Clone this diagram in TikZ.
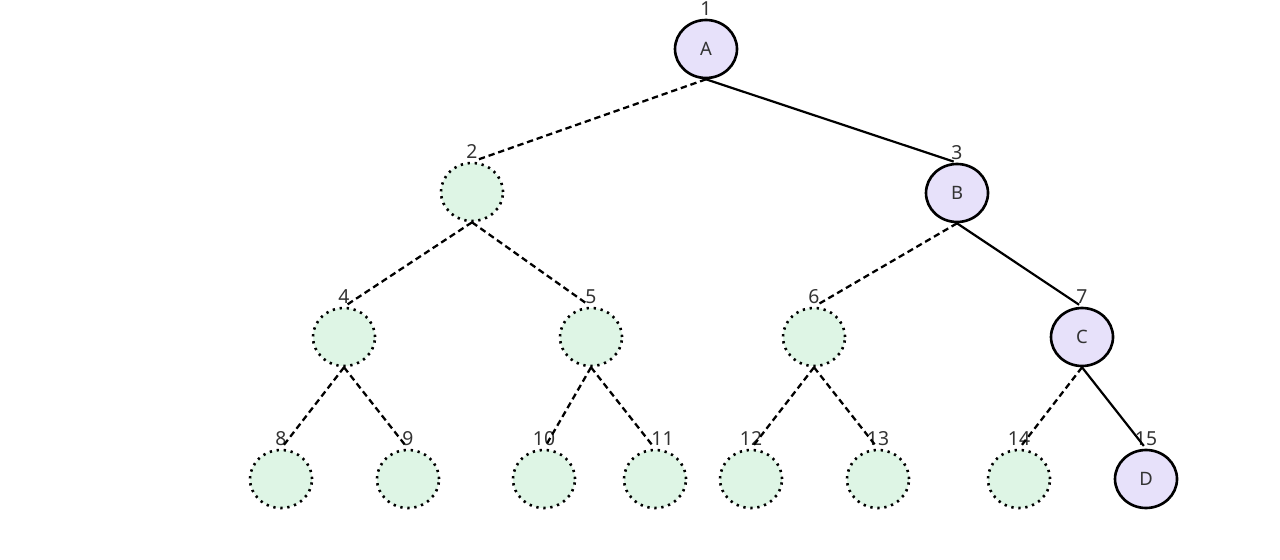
\documentclass[tikz,border=0pt]{standalone}
\usepackage{fontspec}
\setmainfont{Noto Sans}
\usetikzlibrary{positioning,shapes.geometric}
\definecolor{visitfill}{HTML}{E7E1FA}
\definecolor{skipfill}{HTML}{DEF5E5}
\definecolor{numtext}{HTML}{333333}

\begin{document}
\begin{tikzpicture}[x=0.02cm,y=-0.02cm,
    visited/.style={ellipse,draw,line width=1.5pt,fill=visitfill,minimum width=1.24cm,minimum height=1.16cm,inner sep=0pt,text=numtext,font=\fontsize{10.5}{12}\selectfont},
    skipped/.style={ellipse,draw,line width=1.5pt,dash pattern=on 1.3pt off 2.7pt,fill=skipfill,minimum width=1.24cm,minimum height=1.16cm,inner sep=0pt},
    num/.style={inner sep=0pt,text=numtext,font=\fontsize{11}{13}\selectfont},
    taken/.style={line width=1.25pt,shorten >=2pt},
    pruned/.style={line width=1.3pt,dash pattern=on 3.6pt off 2.2pt,shorten >=2pt}]
    \useasboundingbox (0,0) rectangle (1280,560);
    % Level 0
    \node[visited] (n1) at (706,49) {A};
    % Level 1
    \node[skipped] (n2) at (472,192) {};
    \node[visited] (n3) at (957,193) {B};
    % Level 2
    \node[skipped] (n4) at (344,337) {};
    \node[skipped] (n5) at (591,337) {};
    \node[skipped] (n6) at (814,337) {};
    \node[visited] (n7) at (1082,337) {C};
    % Level 3
    \node[skipped] (n8) at (281,479) {};
    \node[skipped] (n9) at (408,479) {};
    \node[skipped] (n10) at (544,479) {};
    \node[skipped] (n11) at (655,479) {};
    \node[skipped] (n12) at (751,479) {};
    \node[skipped] (n13) at (878,479) {};
    \node[skipped] (n14) at (1019,479) {};
    \node[visited] (n15) at (1146,479) {D};
    % Heap indices
    \node[num,above=0.06cm of n1] (l1) {1};
    \node[num,above=0.06cm of n2] (l2) {2};
    \node[num,above=0.06cm of n3] (l3) {3};
    \node[num,above=0.06cm of n4] (l4) {4};
    \node[num,above=0.06cm of n5] (l5) {5};
    \node[num,above=0.06cm of n6] (l6) {6};
    \node[num,above=0.06cm of n7] (l7) {7};
    \node[num,above=0.06cm of n8] (l8) {8};
    \node[num,above=0.06cm of n9] (l9) {9};
    \node[num,above=0.06cm of n10] (l10) {10};
    \node[num,above=0.06cm of n11,xshift=0.15cm] (l11) {11};
    \node[num,above=0.06cm of n12] (l12) {12};
    \node[num,above=0.06cm of n13] (l13) {13};
    \node[num,above=0.06cm of n14] (l14) {14};
    \node[num,above=0.06cm of n15] (l15) {15};
    % Edges
    \draw[pruned] (n1.south) -- (n2.north);
    \draw[taken] (n1.south) -- (n3.north);
    \draw[pruned] (n2.south) -- (n4.north);
    \draw[pruned] (n2.south) -- (n5.north);
    \draw[pruned] (n3.south) -- (n6.north);
    \draw[taken] (n3.south) -- (n7.north);
    \draw[pruned] (n4.south) -- (n8.north);
    \draw[pruned] (n4.south) -- (n9.north);
    \draw[pruned] (n5.south) -- (n10.north);
    \draw[pruned] (n5.south) -- (n11.north);
    \draw[pruned] (n6.south) -- (n12.north);
    \draw[pruned] (n6.south) -- (n13.north);
    \draw[pruned] (n7.south) -- (n14.north);
    \draw[taken] (n7.south) -- (n15.north);
  \end{tikzpicture}
\end{document}
